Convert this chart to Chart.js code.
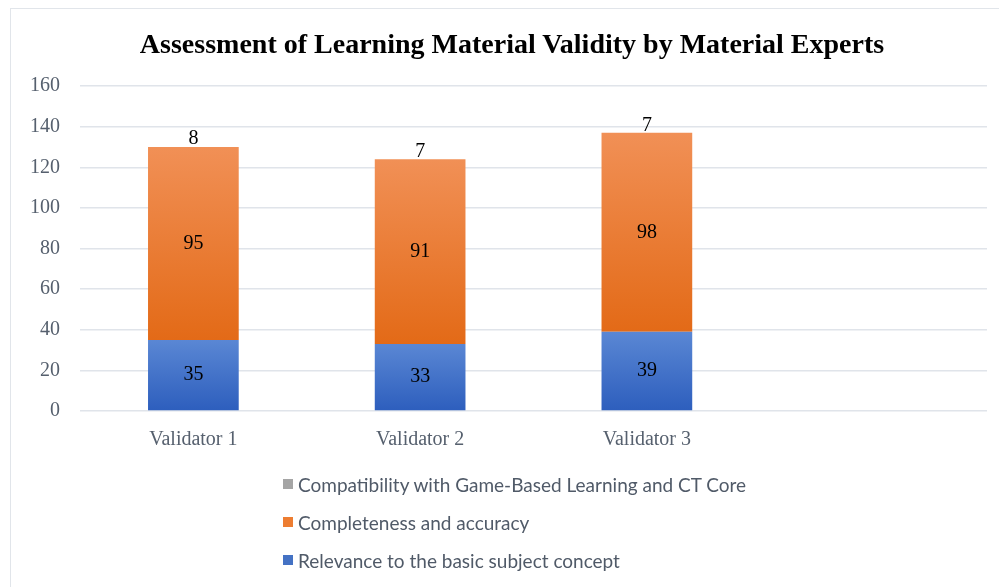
<!DOCTYPE html>
<html>
<head>
<meta charset="utf-8">
<script src="https://cdn.jsdelivr.net/npm/chart.js@4.4.1/dist/chart.umd.min.js"></script>
<style>
  html, body { margin: 0; padding: 0; background: #ffffff; }
  #page { position: relative; width: 999px; height: 587px; overflow: hidden; background: #ffffff; }
  #lead { position: absolute; left: 0px; top: -23px; font: 25px "Liberation Serif", serif; color: #6b6b6b; white-space: nowrap; }
  #frame { position: absolute; left: 10px; top: 8px; width: 1000px; height: 600px; border: 1px solid #e1e5ea; box-sizing: border-box; }
  #wrap { position: absolute; left: 0; top: 0; width: 999px; height: 587px; }
  #title { position: absolute; left: 212px; width: 600px; top: 27px; text-align: center; white-space: nowrap;
           font: bold 28px "Liberation Serif", serif; color: #000000; line-height: 34px; display: flex; justify-content: center; }
  #legend { position: absolute; left: 283px; top: 465px; font: 19px Lato, "Open Sans", sans-serif; color: #505a68; }
  .item { display: flex; align-items: center; height: 38px; }
  .box { width: 10px; height: 10px; margin-right: 5px; flex: none; }
</style>
</head>
<body>
<div id="page">
  <div id="lead">and Table 4 below.</div>
  <div id="frame"></div>
  <div id="wrap"><canvas id="chart" width="999" height="587"></canvas></div>
  <div id="title">Assessment of Learning Material Validity by Material Experts</div>
  <div id="legend"></div>
</div>
<script>
// Validator scores per assessment aspect
const categories = ['Validator 1', 'Validator 2', 'Validator 3', ''];
const relevance = [35, 33, 39, null];
const completeness = [95, 91, 98, null];
const compatibility = [8, 7, 7, null];
const yTicks = [0, 20, 40, 60, 80, 100, 120, 140, 160];

const seriesNames = [
  'Relevance to the basic subject concept',
  'Completeness and accuracy',
  'Compatibility with Game-Based Learning and CT Core'
];
const seriesValues = [relevance, completeness, compatibility];
const legendColors = ['#4472c4', '#ed7d31', '#a5a5a5'];
// top / bottom shades of each segment's vertical gradient
const shades = [
  ['#5a87d4', '#2d5ebd'],
  ['#f19056', '#e36a17'],
  ['rgba(255,255,255,0)', 'rgba(255,255,255,0)']
];

function segmentFill(ctx) {
  const chart = ctx.chart;
  const ds = ctx.datasetIndex;
  const i = ctx.dataIndex;
  const y = chart.scales && chart.scales.y;
  if (!chart.chartArea || !y) return shades[ds][1];
  let base = 0;
  for (let k = 0; k < ds; k++) base += seriesValues[k][i] || 0;
  const top = base + (seriesValues[ds][i] || 0);
  const y0 = y.getPixelForValue(top);
  const y1 = y.getPixelForValue(base);
  if (!isFinite(y0) || !isFinite(y1) || y0 === y1) return shades[ds][1];
  const g = chart.ctx.createLinearGradient(0, y0, 0, y1);
  g.addColorStop(0, shades[ds][0]);
  g.addColorStop(1, shades[ds][1]);
  return g;
}

// writes each segment's value at its centre
const segmentLabels = {
  id: 'segmentLabels',
  afterDatasetsDraw(chart) {
    const c = chart.ctx;
    c.save();
    c.font = '20px "Liberation Serif", serif';
    c.fillStyle = '#000000';
    c.textAlign = 'center';
    c.textBaseline = 'middle';
    chart.data.datasets.forEach((d, di) => {
      const meta = chart.getDatasetMeta(di);
      meta.data.forEach((el, i) => {
        const v = d.data[i];
        if (v === null || v === undefined) return;
        c.fillText(String(v), el.x, (el.y + el.base) / 2);
      });
    });
    c.restore();
  }
};

const chart = new Chart(document.getElementById('chart'), {
  type: 'bar',
  data: {
    labels: categories,
    datasets: seriesValues.map((vals, k) => ({
      label: seriesNames[k],
      data: vals,
      backgroundColor: segmentFill,
      borderWidth: 0,
      barPercentage: 0.4,
      categoryPercentage: 1.0
    }))
  },
  options: {
    responsive: false,
    animation: false,
    devicePixelRatio: 1,
    layout: { padding: { left: 10, right: 12, top: 86, bottom: 126 } },
    plugins: {
      legend: { display: false },
      tooltip: { enabled: false },
      title: { display: false }
    },
    scales: {
      x: {
        stacked: true,
        grid: { display: false },
        border: { display: false },
        ticks: {
          padding: 9,
          color: '#56606e',
          font: { family: '"Liberation Serif", serif', size: 20 }
        }
      },
      y: {
        stacked: true,
        min: 0,
        max: 160,
        afterBuildTicks(axis) { axis.ticks = yTicks.map(v => ({ value: v })); },
        grid: { color: '#e0e4ea', lineWidth: 1.5, drawTicks: false },
        border: { display: false },
        ticks: {
          padding: 20,
          color: '#56606e',
          font: { family: '"Liberation Serif", serif', size: 20 }
        }
      }
    }
  },
  plugins: [segmentLabels]
});

// legend listed top-down in reverse stacking order
const legend = document.getElementById('legend');
for (let k = seriesNames.length - 1; k >= 0; k--) {
  const row = document.createElement('div');
  row.className = 'item';
  const box = document.createElement('span');
  box.className = 'box';
  box.style.background = legendColors[k];
  const txt = document.createElement('span');
  txt.textContent = seriesNames[k];
  row.appendChild(box);
  row.appendChild(txt);
  legend.appendChild(row);
}
</script>
</body>
</html>
